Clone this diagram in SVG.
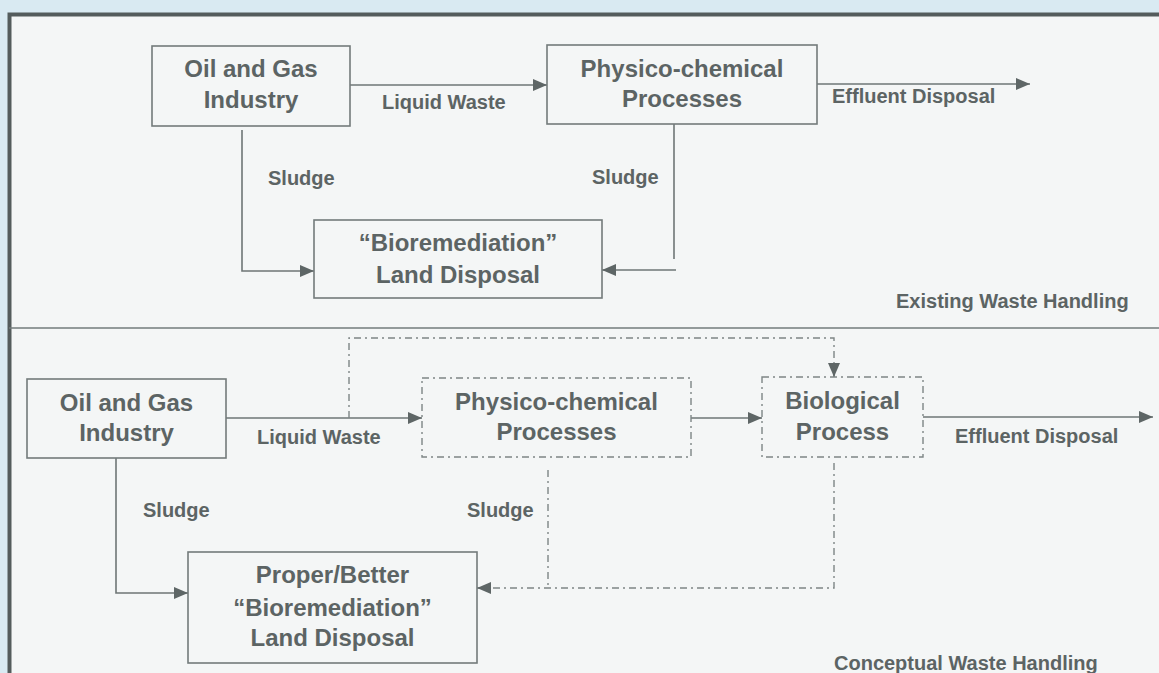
<svg xmlns="http://www.w3.org/2000/svg" width="1159" height="673" viewBox="0 0 1159 673">
<style>
.node rect{fill:none;stroke:#737b7b;stroke-width:1.6}
.node.dd rect{stroke:#7d8585;stroke-width:1.4;stroke-dasharray:7 4 2 4}
.bt{font-family:"Liberation Sans",Arial,sans-serif;font-weight:bold;font-size:24px;fill:#5c6464;text-anchor:middle}
.lb{font-family:"Liberation Sans",Arial,sans-serif;font-weight:bold;font-size:20px;fill:#5c6464}
.ln{fill:none;stroke:#6e7676;stroke-width:1.6}
.dl{fill:none;stroke:#7d8585;stroke-width:1.4;stroke-dasharray:7 4 2 4}
</style>
<defs>
<marker id="ah" viewBox="0 0 14 12" refX="14" refY="6" markerWidth="14" markerHeight="12" markerUnits="userSpaceOnUse" orient="auto">
<path d="M0,0 L14,6 L0,12 Z" fill="#5e6666"/>
</marker>
</defs>
<rect x="0" y="0" width="1159" height="673" fill="#d9eaf2"/>
<rect x="9" y="14" width="1160" height="670" fill="#f4f6f6"/>
<path d="M9.5,673 V14.5 H1159" fill="none" stroke="#545c5c" stroke-width="4"/>
<line x1="9" y1="328" x2="1159" y2="328" stroke="#737b7b" stroke-width="1.6"/>

<g id="connectors">
<path class="ln" d="M350,85 H547" marker-end="url(#ah)"/>
<path class="ln" d="M817,84 H1030" marker-end="url(#ah)"/>
<path class="ln" d="M242,130 V271 H314" marker-end="url(#ah)"/>
<path class="ln" d="M674,124 V259"/>
<path class="ln" d="M676,270 H602" marker-end="url(#ah)"/>

<path class="ln" d="M226,418 H422" marker-end="url(#ah)"/>
<path class="dl" d="M349,418 V338 H834 V364"/>
<path class="ln" d="M834,364 V377" marker-end="url(#ah)"/>
<path class="ln" d="M691,418 H762" marker-end="url(#ah)"/>
<path class="ln" d="M923,417 H1153" marker-end="url(#ah)"/>
<path class="ln" d="M116,458 V593 H188" marker-end="url(#ah)"/>
<path class="dl" d="M548,470 V588"/>
<path class="dl" d="M834,463 V588 H490"/>
<path class="ln" d="M490,588 H477" marker-end="url(#ah)"/>
</g>

<g id="top-oil" class="node"><rect x="152" y="46" width="198" height="80"/>
<text class="bt" x="251" y="77">Oil and Gas</text><text class="bt" x="251" y="108">Industry</text></g>
<g id="top-physico" class="node"><rect x="547" y="45" width="270" height="79"/>
<text class="bt" x="682" y="77">Physico-chemical</text><text class="bt" x="682" y="107">Processes</text></g>
<g id="top-bioremediation" class="node"><rect x="314" y="220" width="288" height="78"/>
<text class="bt" x="458" y="251">“Bioremediation”</text><text class="bt" x="458" y="283">Land Disposal</text></g>

<g id="bottom-oil" class="node"><rect x="27" y="379" width="199" height="79"/>
<text class="bt" x="126.5" y="411">Oil and Gas</text><text class="bt" x="126.5" y="441">Industry</text></g>
<g id="bottom-physico" class="node dd"><rect x="422" y="378" width="269" height="79"/>
<text class="bt" x="556.5" y="410">Physico-chemical</text><text class="bt" x="556.5" y="440">Processes</text></g>
<g id="bottom-biological" class="node dd"><rect x="762" y="377" width="161" height="80"/>
<text class="bt" x="842.5" y="409">Biological</text><text class="bt" x="842.5" y="440">Process</text></g>
<g id="bottom-proper" class="node"><rect x="188" y="552" width="289" height="111"/>
<text class="bt" x="332.5" y="583">Proper/Better</text><text class="bt" x="332.5" y="616">“Bioremediation”</text><text class="bt" x="332.5" y="646">Land Disposal</text></g>

<g id="labels">
<text class="lb" x="382" y="109">Liquid Waste</text>
<text class="lb" x="832" y="103">Effluent Disposal</text>
<text class="lb" x="268" y="185">Sludge</text>
<text class="lb" x="592" y="184">Sludge</text>
<text class="lb" x="896" y="308">Existing Waste Handling</text>
<text class="lb" x="257" y="444">Liquid Waste</text>
<text class="lb" x="955" y="443">Effluent Disposal</text>
<text class="lb" x="143" y="517">Sludge</text>
<text class="lb" x="467" y="517">Sludge</text>
<text class="lb" x="834" y="670">Conceptual Waste Handling</text>
</g>
</svg>
